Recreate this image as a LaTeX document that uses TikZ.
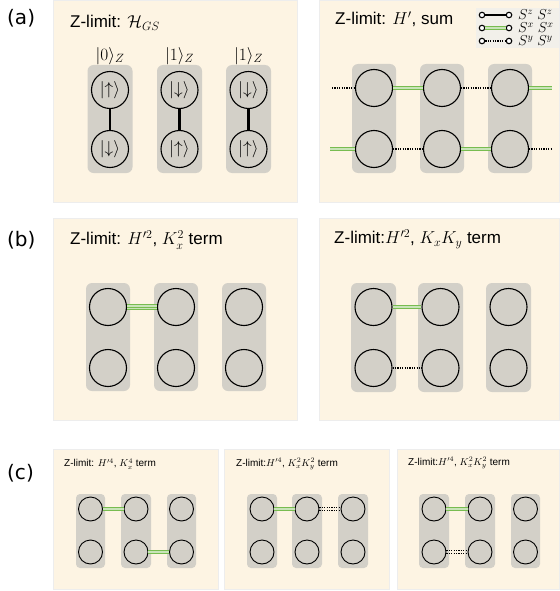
\documentclass[tikz,border=0pt]{standalone}
\usepackage{fontspec}
\setmainfont{Liberation Sans}
\newfontfamily\labelfont{DejaVu Sans}
\usetikzlibrary{positioning}
\definecolor{panelbg}{RGB}{253,244,227}
\definecolor{pairgray}{RGB}{211,208,200}
\definecolor{xxgreen}{RGB}{120,188,80}
\definecolor{legendbg}{RGB}{242,240,234}
\tikzset{
	panel/.style={fill=panelbg, draw=black!7, line width=0.6pt},
	pair/.style={fill=pairgray, rounded corners=6pt},
	smallpair/.style={fill=pairgray, rounded corners=4pt},
	site/.style={circle, draw=black, line width=1.1pt, minimum size=37pt, inner sep=0pt, font=\fontsize{16.5}{18}\selectfont},
	smallsite/.style={circle, draw=black, line width=0.9pt, minimum size=24pt, inner sep=0pt},
	dot/.style={circle, draw=black, fill=white, line width=1.1pt, minimum size=5.5pt, inner sep=0pt},
	zzbond/.style={line width=2.2pt},
	xxbond/.style={draw=xxgreen, double=xxgreen!40!white, double distance=1.2pt, line width=1pt},
	yybond/.style={line width=1.2pt, dash pattern=on 1.2pt off 1.2pt},
	title/.style={anchor=west, inner sep=0pt, font=\fontsize{17}{20}\selectfont},
	smalltitle/.style={anchor=west, inner sep=0pt, font=\fontsize{10}{12}\selectfont},
	letter/.style={anchor=west, inner sep=0pt, font=\labelfont\fontsize{20}{24}\selectfont},
	ket/.style={inner sep=0pt, font=\fontsize{17.5}{20}\selectfont},
	legendtext/.style={anchor=west, inner sep=0pt, font=\fontsize{14}{14}\selectfont}
}

\begin{document}
\begin{tikzpicture}[x=1pt, y=-1pt]
		%%%%% START %%%%%
		\useasboundingbox (0, 0) rectangle (559, 591);
		
		% panels
		\draw[panel] (53, 0) rectangle (297, 202);
		\draw[panel] (319, 0) rectangle (559, 202);
		\draw[panel] (53, 218) rectangle (297, 420);
		\draw[panel] (319, 218) rectangle (559, 420);
		\draw[panel] (53, 449) rectangle (218, 589);
		\draw[panel] (224, 449) rectangle (389, 589);
		\draw[panel] (397, 449) rectangle (559, 589);
		
		\node[letter] (lettera) at (7, 18) {(a)};
		\node[letter] (letterb) at (7, 240) {(b)};
		\node[letter] (letterc) at (7, 473) {(c)};
		
		%%%%% (a) left: ground state %%%%%
		\node[title] (titleaL) at (70, 23) {Z-limit: $\mathcal{H}_{GS}$};
		
		\path[pair] (87.5, 65) rectangle (132.5, 173);
		\path[pair] (157, 65) rectangle (202, 173);
		\path[pair] (226, 65) rectangle (271, 173);
		
		\node[ket] (ket1) at (110, 56) {$|0\rangle_Z$};
		\node[ket] (ket2) at (179.5, 56) {$|1\rangle_Z$};
		\node[ket] (ket3) at (248.5, 56) {$|1\rangle_Z$};
		
		\node[site] (aL1t) at (110, 90) {$|{\uparrow}\rangle$};
		\node[site] (aL1b) at (110, 149) {$|{\downarrow}\rangle$};
		\node[site] (aL2t) at (179.5, 90) {$|{\downarrow}\rangle$};
		\node[site] (aL2b) at (179.5, 149) {$|{\uparrow}\rangle$};
		\node[site] (aL3t) at (248.5, 90) {$|{\downarrow}\rangle$};
		\node[site] (aL3b) at (248.5, 149) {$|{\uparrow}\rangle$};
		
		\draw[zzbond] (aL1t) -- (aL1b);
		\draw[zzbond] (aL2t) -- (aL2b);
		\draw[zzbond] (aL3t) -- (aL3b);
		
		%%%%% (a) right: H' sum %%%%%
		\node[title] (titleaR) at (335, 19) {Z-limit: $H'$, sum};
		
		\path[fill=legendbg] (476, 8) rectangle (559, 48);
		\node[dot] (lz1) at (482, 15) {};
		\node[dot] (lz2) at (509, 15) {};
		\node[dot] (lx1) at (482, 28) {};
		\node[dot] (lx2) at (509, 28) {};
		\node[dot] (ly1) at (482, 41) {};
		\node[dot] (ly2) at (509, 41) {};
		\draw[zzbond] (lz1) -- (lz2);
		\draw[xxbond] (lx1) -- (lx2);
		\draw[yybond] (ly1) -- (ly2);
		\node[legendtext] (lzt) at (518, 15) {$S^z\;S^z$};
		\node[legendtext] (lxt) at (518, 28) {$S^x\;S^x$};
		\node[legendtext] (lyt) at (518, 41) {$S^y\;S^y$};
		
		\path[pair] (352, 64) rectangle (396, 173);
		\path[pair] (420, 64) rectangle (464, 173);
		\path[pair] (488, 64) rectangle (532, 173);
		
		\node[site] (aR1t) at (374, 88) {};
		\node[site] (aR1b) at (374, 149) {};
		\node[site] (aR2t) at (442, 88) {};
		\node[site] (aR2b) at (442, 149) {};
		\node[site] (aR3t) at (510, 88) {};
		\node[site] (aR3b) at (510, 149) {};
		
		\coordinate (aRlt) at (332, 88);
		\coordinate (aRlb) at (330, 149);
		\coordinate (aRrt) at (552, 88);
		\coordinate (aRrb) at (552, 149);
		
		\draw[yybond] (aRlt) -- (aR1t);
		\draw[xxbond] (aR1t) -- (aR2t);
		\draw[yybond] (aR2t) -- (aR3t);
		\draw[xxbond] (aR3t) -- (aRrt);
		\draw[xxbond] (aRlb) -- (aR1b);
		\draw[yybond] (aR1b) -- (aR2b);
		\draw[xxbond] (aR2b) -- (aR3b);
		\draw[yybond] (aR3b) -- (aRrb);
		
		%%%%% (b) left: Kx^2 %%%%%
		\node[title] (titlebL) at (70, 240) {Z-limit: $H'^2$, $K_x^2$ term};
		
		\path[pair] (86, 283) rectangle (130, 391);
		\path[pair] (154, 283) rectangle (198, 391);
		\path[pair] (222, 283) rectangle (266, 391);
		
		\node[site] (bL1t) at (108, 307) {};
		\node[site] (bL1b) at (108, 368) {};
		\node[site] (bL2t) at (176, 307) {};
		\node[site] (bL2b) at (176, 368) {};
		\node[site] (bL3t) at (244, 307) {};
		\node[site] (bL3b) at (244, 368) {};
		
		\draw[xxbond, line width=0.9pt, double distance=3.6pt] (bL1t) -- (bL2t);
		\draw[draw=xxgreen, line width=0.9pt] (bL1t) -- (bL2t);
		
		%%%%% (b) right: KxKy %%%%%
		\node[title] (titlebR) at (334, 239) {Z-limit:$H'^2$, $K_xK_y$ term};
		
		\path[pair] (351, 283) rectangle (396, 392);
		\path[pair] (418, 283) rectangle (463, 392);
		\path[pair] (486, 283) rectangle (531, 392);
		
		\node[site] (bR1t) at (373.5, 307) {};
		\node[site] (bR1b) at (373.5, 368) {};
		\node[site] (bR2t) at (440.5, 307) {};
		\node[site] (bR2b) at (440.5, 368) {};
		\node[site] (bR3t) at (508.5, 307) {};
		\node[site] (bR3b) at (508.5, 368) {};
		
		\draw[xxbond] (bR1t) -- (bR2t);
		\draw[yybond] (bR1b) -- (bR2b);
		
		%%%%% (c) first: Kx^4 %%%%%
		\node[smalltitle] (titlec1) at (64, 464) {Z-limit: $H'^4$, $K_x^4$ term};
		
		\path[smallpair] (76, 494) rectangle (105, 568);
		\path[smallpair] (121, 494) rectangle (151, 568);
		\path[smallpair] (167, 494) rectangle (196, 568);
		
		\node[smallsite] (c11t) at (90.5, 509) {};
		\node[smallsite] (c11b) at (90.5, 552) {};
		\node[smallsite] (c12t) at (136, 509) {};
		\node[smallsite] (c12b) at (136, 552) {};
		\node[smallsite] (c13t) at (181.5, 509) {};
		\node[smallsite] (c13b) at (181.5, 552) {};
		
		\draw[xxbond] (c11t) -- (c12t);
		\draw[xxbond] (c12b) -- (c13b);
		
		%%%%% (c) second: Kx^2 Ky^2 %%%%%
		\node[smalltitle] (titlec2) at (236, 464) {Z-limit:$H'^4$, $K_x^2K_y^2$ term};
		
		\path[smallpair] (247, 494) rectangle (277, 568);
		\path[smallpair] (292, 494) rectangle (322, 568);
		\path[smallpair] (338, 494) rectangle (368, 568);
		
		\node[smallsite] (c21t) at (262, 509) {};
		\node[smallsite] (c21b) at (262, 552) {};
		\node[smallsite] (c22t) at (307, 509) {};
		\node[smallsite] (c22b) at (307, 552) {};
		\node[smallsite] (c23t) at (353, 509) {};
		\node[smallsite] (c23b) at (353, 552) {};
		
		\draw[xxbond] (c21t) -- (c22t);
		\draw[yybond, line width=0.9pt] ([yshift=1.5pt]c22t.east) -- ([yshift=1.5pt]c23t.west);
		\draw[yybond, line width=0.9pt] ([yshift=-1.5pt]c22t.east) -- ([yshift=-1.5pt]c23t.west);
		
		%%%%% (c) third: Kx^2 Ky^2 %%%%%
		\node[smalltitle] (titlec3) at (408, 463) {Z-limit:$H'^4$, $K_x^2K_y^2$ term};
		
		\path[smallpair] (419, 494) rectangle (449, 568);
		\path[smallpair] (465, 494) rectangle (495, 568);
		\path[smallpair] (511, 494) rectangle (540, 568);
		
		\node[smallsite] (c31t) at (434, 509) {};
		\node[smallsite] (c31b) at (434, 552) {};
		\node[smallsite] (c32t) at (480, 509) {};
		\node[smallsite] (c32b) at (480, 552) {};
		\node[smallsite] (c33t) at (525.5, 509) {};
		\node[smallsite] (c33b) at (525.5, 552) {};
		
		\draw[xxbond] (c31t) -- (c32t);
		\draw[yybond, line width=0.9pt] ([yshift=1.5pt]c31b.east) -- ([yshift=1.5pt]c32b.west);
		\draw[yybond, line width=0.9pt] ([yshift=-1.5pt]c31b.east) -- ([yshift=-1.5pt]c32b.west);
		
		%%%%% END %%%%%
	\end{tikzpicture}
\end{document}
